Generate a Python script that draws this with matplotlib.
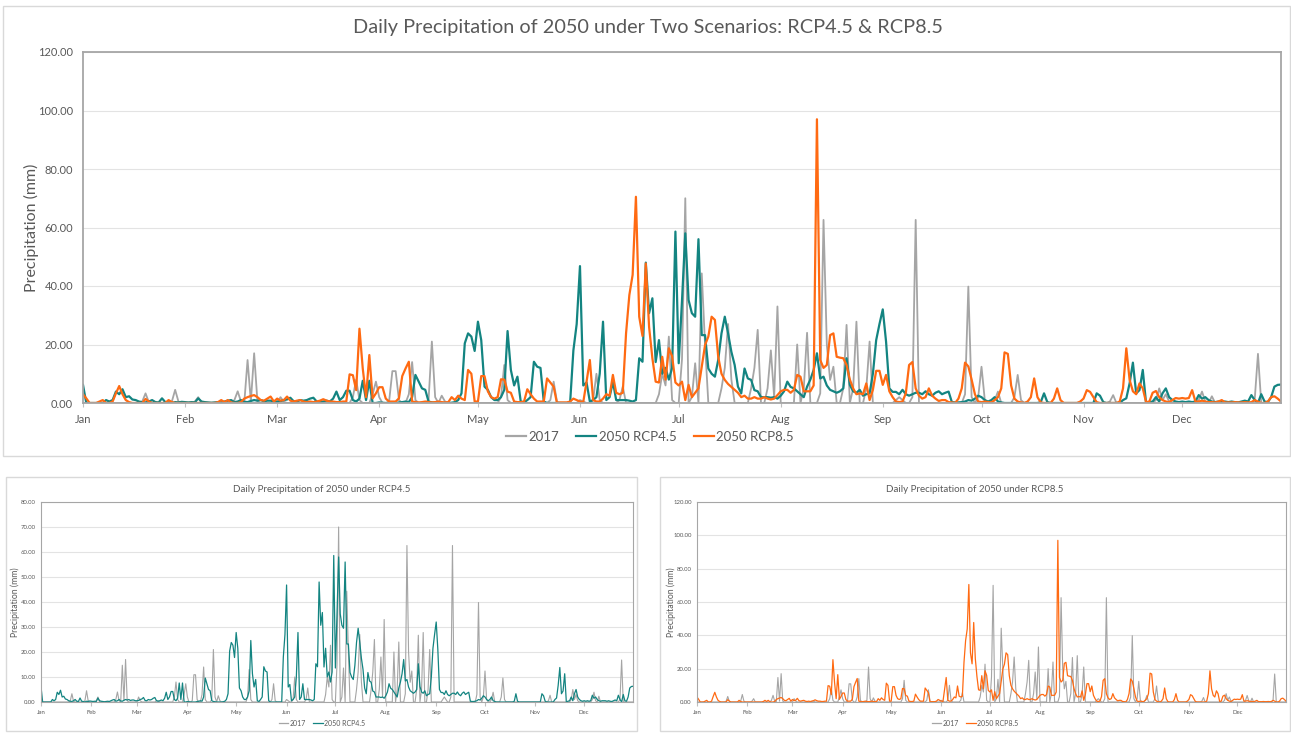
import numpy as np
import matplotlib.pyplot as plt
from matplotlib.patches import Rectangle
from matplotlib.lines import Line2D

W, H = 1291, 733
plt.rcParams['font.family'] = ['Lato', 'DejaVu Sans']

months = ['Jan', 'Feb', 'Mar', 'Apr', 'May', 'Jun', 'Jul', 'Aug', 'Sep', 'Oct', 'Nov', 'Dec']
month_days = [31, 28, 31, 30, 31, 30, 31, 31, 30, 31, 30, 31]

# daily precipitation (mm)
precip_2017 = (
    [0, 0, 0, 0, 0, 0, 0, 0, 0, 0, 0, 0, 0, 0, 0, 0, 0, 0, 0.5, 3.3,
     0.3, 0, 0, 0, 0, 0, 0, 0.5, 4.5, 0.5, 0]                                  # Jan
    + [0, 0, 0, 0.5, 2, 0, 0, 0, 0, 0, 0, 0, 0, 0, 0, 1, 4, 0.5, 0, 14.7,
       0.5, 17, 0.5, 0, 0, 0, 0, 0]                                             # Feb
    + [0, 2, 0.5, 0, 0, 0, 0, 0, 0, 0, 0, 0, 0.5, 0.5, 0, 0, 0, 0, 0, 0,
       0, 0, 0, 2, 8, 1, 0, 0, 0, 3, 7.3]                                       # Mar
    + [2, 0, 0, 0.5, 10.9, 10.9, 1, 0, 0, 3, 14, 1, 0, 0, 0, 1, 21, 2, 0, 2.5,
       0.5, 0, 0, 0, 0, 0, 0, 0, 0, 0]                                          # Apr
    + [0, 0, 0, 0, 0, 0, 0, 2, 13, 1, 0, 0, 0, 0, 0, 0, 0, 0, 0, 0,
       0, 0, 1, 7.3, 0.5, 0, 0, 0, 0, 0, 0]                                     # May
    + [1, 0.5, 0, 0, 1, 10, 1, 0, 0, 0, 0, 0, 1, 5.6, 0, 0, 0, 0, 0, 0,
       0, 0, 0, 0, 3, 10, 6, 22.7, 1, 0]                                        # Jun
    + [0, 15, 70, 0, 2, 13.6, 0, 44.3, 20, 0, 0, 0, 0, 5, 12, 27, 8, 0, 0, 0,
       0, 0, 5, 12, 25, 0, 0, 5, 18, 2, 33]                                     # Jul
    + [0, 0, 0, 0, 0, 20, 0, 5, 24, 0, 0, 0, 3.3, 62.6, 20, 7.9, 12.4, 0, 0, 5,
       26.7, 0, 5, 27.8, 0, 0, 5, 21, 0, 0, 0]                                  # Aug
    + [0, 0, 0, 0, 1, 2, 1, 0, 0, 2, 62.6, 0, 0, 0, 0, 0, 0, 0, 0, 0,
       0, 0, 0, 0, 0, 3, 39.8, 2, 0, 2]                                         # Sep
    + [12.4, 1, 0, 0, 1, 3.9, 0, 0, 0, 0, 2, 9.6, 1, 0, 0, 0, 0, 0, 0, 0,
       0, 0, 0, 0, 0, 0, 0, 0, 0, 0, 0]                                         # Oct
    + [0, 0, 0, 0, 0, 0, 0, 0, 0.5, 2.7, 0, 0, 0, 0, 0, 0, 0, 0, 0, 0,
       0, 0, 1, 5, 1, 3, 0.5, 0, 0, 0]                                          # Nov
    + [0, 0, 0, 0, 0, 1, 3.9, 0.5, 0, 2.3, 0, 0, 0, 0, 0, 0, 0, 0, 0, 0,
       0, 0, 1, 16.8, 0, 0, 0, 0, 0, 0, 0]                                      # Dec
)

precip_rcp45 = (
    [6.2, 0, 0, 0, 0, 0, 0, 1, 0.5, 1, 3.9, 3, 4.7, 2, 2.3, 1.2, 1, 0.5, 0.3, 0.2,
     0.5, 1, 0.3, 0.2, 1.6, 0.3, 0.2, 0, 0.3, 0.2, 0.4]                         # Jan
    + [0.3, 0.2, 0.3, 0.2, 1.6, 0.5, 0.3, 0.2, 0.1, 0.2, 0.3, 0.2, 0.5, 0.8, 1,
       0.3, 0.5, 1, 0.4, 0.3, 0.7, 1, 0.8, 1, 0.6, 0.8, 0.8, 0.5]               # Feb
    + [0.5, 0.6, 1, 1.2, 1.8, 0.6, 0.5, 1, 0.8, 1, 1.5, 1.8, 0.5, 0.3, 0.5,
       0.8, 0.5, 1.5, 3.9, 1, 2, 4.2, 4.2, 1, 0.5, 1.5, 7.6, 1, 7.6, 0, 0]      # Mar
    + [0.2, 0.1, 0, 0, 0, 0, 0.2, 0.3, 0.5, 0.3, 2, 9.6, 7.3, 5, 4.5,
       0.5, 0.2, 0.1, 0, 0, 0, 0, 0.1, 0.3, 1, 3.3, 20.4, 23.8, 22.7, 17.8]     # Apr
    + [27.8, 21.5, 5.6, 4.5, 2, 1, 1, 2, 4.5, 24.6, 11.3, 6, 9, 0.5, 0.2,
       1, 2, 14.1, 12.4, 12, 0.5, 0, 0, 0, 0, 0, 0, 0, 0, 18, 27]               # May
    + [46.8, 6, 7, 0.5, 1, 2, 10, 27.8, 1, 2, 7.3, 1, 1, 1, 1,
       0.8, 0.5, 1, 15.3, 14.1, 48, 30.7, 35.8, 14, 21.5, 10, 12, 8, 12, 58.6]  # Jun
    + [13.6, 35, 58, 35.2, 30.7, 29.5, 56, 23.2, 23.2, 11.8, 10, 9, 14.7, 23.8, 29.5,
       23.8, 17.5, 13, 5.6, 3.3, 11.8, 8.4, 7.9, 4.4, 4, 2, 2, 2, 1.8, 2, 1.5]  # Jul
    + [2.5, 4, 7.3, 5.5, 5, 4, 3, 2, 5.6, 8, 11.3, 17, 8.4, 9, 6,
       4.5, 4, 3.5, 4, 5, 15.3, 6.2, 4, 3.5, 4.5, 2.5, 3, 3.3, 10, 21.5, 27]    # Aug
    + [32, 21, 5, 3.8, 3.8, 3, 4.5, 3, 2.5, 3, 3.5, 3.5, 3, 4, 3,
       2.5, 3.5, 4, 3, 3.5, 3.9, 0.3, 0.2, 0.2, 0.3, 0.5, 1, 0.8, 1.5, 2.5]     # Sep
    + [2, 1, 0.5, 1, 2, 0.5, 0.2, 0, 0, 0, 0, 0, 0, 0, 0,
       0, 0, 0, 0.3, 3.3, 0.3, 0, 0, 0, 0, 0, 0, 0, 0, 0, 0]                   # Oct
    + [0, 0, 0, 0, 3.3, 2.5, 0.3, 0, 0, 0, 0, 0, 1, 1.6, 6.7,
       13.8, 3.3, 4.4, 11.3, 0, 0.3, 0.5, 2, 0.5, 3.3, 5, 2, 1, 0.5, 0.3]       # Nov
    + [0.5, 0.3, 0.5, 0.3, 0.5, 2.7, 1.5, 2, 1, 0.5, 0.3, 0.5, 0.5, 0.5, 0.3,
       0.5, 0.3, 0.2, 0.5, 0.8, 0.5, 2.7, 1, 0, 3, 0.5, 0.3, 2, 5.6, 6.2, 6.3]  # Dec
)

precip_rcp85 = (
    [3, 1.6, 0, 0, 0, 0.5, 1, 0, 0, 0.5, 3.3, 5.8, 3, 1, 0.3,
     0, 0, 0, 0, 1.4, 0.5, 0, 0, 0, 0, 0, 1, 0.3, 0, 0, 0]                     # Jan
    + [0, 0, 0, 0, 0, 0, 0, 0, 0, 0, 0.3, 1, 0.3, 1, 0.2,
       0, 0, 0.3, 1.5, 2, 2.4, 2.7, 2, 1, 0.8, 1.5, 2.2, 0.5]                   # Feb
    + [1.5, 0.8, 1, 2.2, 0.8, 0.5, 0.8, 1, 0.5, 0.3, 0.5, 0.3, 0.5, 0.8, 1.3,
       0.8, 0.5, 0.5, 0.3, 0.3, 0.5, 0.5, 9.8, 9.5, 4.4, 25.4, 11.8, 2, 16.4, 1.6, 3.3]  # Mar
    + [5.4, 5.4, 1.5, 0.5, 0.5, 0.5, 1.6, 9.2, 11.8, 14.1, 0.5, 0.3, 0.2, 0.3, 0.5,
       0.3, 0.2, 0.3, 0.5, 0.3, 0.2, 0.3, 2, 1, 2.5, 1.5, 1, 11.3, 10, 0.5]     # Apr
    + [0.5, 9.2, 9.2, 4, 2, 1.5, 2, 8.1, 8, 3.9, 3.5, 0.5, 0.3, 0.3, 0.5,
       4.7, 3, 1.5, 0.5, 0.5, 0.5, 8.4, 7, 5.6, 0, 0.2, 0.2, 0.2, 0.5, 1.5, 1]  # May
    + [0.5, 0.3, 7.3, 14.7, 1, 0.5, 0.5, 1.5, 3, 2.5, 9.6, 3.5, 3, 3.5, 23.8,
       36.9, 43.8, 70.5, 29.5, 22.9, 47.7, 26, 15.3, 7.3, 7, 15.8, 8, 18.7, 16, 7]  # Jun
    + [6, 7.3, 1, 6.2, 2, 3.5, 5, 12.4, 19.8, 22.7, 29.5, 28.4, 15.8, 10, 7.9,
       6.5, 5.5, 4.5, 3.5, 2, 2.5, 1.5, 1.5, 2, 1.5, 1.5, 2, 1.5, 1.2, 1.5, 2.7]  # Jul
    + [4, 4.5, 4.5, 3.5, 4.5, 9.6, 9, 4, 4, 4, 6, 97, 14.7, 12, 13,
       23.2, 23.8, 15.8, 15.5, 15.3, 13, 8, 5, 3, 3.3, 3, 6.7, 1, 4.5, 11, 11]  # Aug
    + [6.2, 9.6, 4, 2, 0.5, 0.3, 0.5, 3.3, 13, 14, 5, 2.5, 1.5, 2, 5,
       2.5, 1.5, 0.7, 1, 1, 0.3, 0.2, 0, 1.5, 5, 13.8, 12.5, 8, 3, 0.5]         # Sep
    + [0.3, 0.5, 0.3, 0.2, 1, 2, 5, 17.3, 16.8, 6, 1.5, 0.5, 0.2, 0, 0.5,
       2, 8.4, 2, 0.2, 0, 0, 0, 1.5, 5, 1, 0, 0, 0, 0, 0, 0.5]                 # Oct
    + [1.5, 4.4, 3.8, 2, 0.3, 0, 0, 0, 0, 0, 0, 0.5, 5, 18.7, 7.9,
       4, 3, 6.7, 5, 0.3, 0.5, 3.5, 4.1, 2, 1, 0.5, 0.3, 1, 1.7, 1.5]           # Nov
    + [1.7, 1.5, 1.7, 4.4, 0.5, 0.5, 0.8, 0.5, 0.3, 0.3, 0.2, 0.5, 1, 0.2, 0.2,
       0.2, 0.3, 0.2, 0.2, 0.3, 0.2, 0.3, 1, 0.5, 0, 0, 0.5, 2, 2.3, 1.5, 0.5]  # Dec
)

GRAY, TEAL, ORANGE = '#A5A5A5', '#138481', '#FF6A12'
TEXT = '#595959'
days = np.arange(len(precip_2017))
month_starts = np.cumsum([0] + month_days[:-1])


def px_axes(fig, left, top, right, bottom):
    """Axes placed by pixel edges of the 1291x733 canvas."""
    return fig.add_axes([left / W, 1 - bottom / H, (right - left) / W, (bottom - top) / H])


def px_box(fig, left, top, right, bottom, color='#D9D9D9'):
    fig.patches.append(Rectangle((left / W, 1 - bottom / H), (right - left) / W, (bottom - top) / H,
                                 transform=fig.transFigure, fill=False, edgecolor=color, lw=1.0))


def style_panel(ax, ymax, ystep, tick_fs, ylabel_fs, frame_lw):
    ax.set_xlim(0, len(days) - 1)
    ax.set_ylim(0, ymax)
    ax.set_yticks(np.arange(0, ymax + 0.1, ystep))
    ax.set_yticklabels([f"{v:.2f}" for v in np.arange(0, ymax + 0.1, ystep)])
    ax.set_xticks(month_starts)
    ax.set_xticklabels(months)
    ax.tick_params(axis='y', length=0, labelsize=tick_fs, colors=TEXT, pad=tick_fs * 0.9)
    ax.tick_params(axis='x', length=3, width=0.8, color='#BFBFBF', labelsize=tick_fs, colors=TEXT,
                   pad=tick_fs * 0.6)
    ax.grid(axis='y', color='#E3E3E3', lw=0.8)
    ax.set_axisbelow(True)
    for sp in ax.spines.values():
        sp.set_color('#A6A6A6')
        sp.set_linewidth(frame_lw)
    ax.set_ylabel("Precipitation (mm)", fontsize=ylabel_fs, color=TEXT)


fig = plt.figure(figsize=(W / 100, H / 100), dpi=100)

# top panel
px_box(fig, 3, 6, 1290, 456)
ax = px_axes(fig, 83, 52, 1281, 403)
ax.plot(days, precip_2017, color=GRAY, lw=1.3)
ax.plot(days, precip_rcp45, color=TEAL, lw=1.6)
ax.plot(days, precip_rcp85, color=ORANGE, lw=1.6)
style_panel(ax, 120, 20, 8, 11.5, 1.3)
ax.yaxis.set_label_coords(-0.037, 0.5)
fig.text(648 / W, 1 - 27 / H, "Daily Precipitation of 2050 under Two Scenarios: RCP4.5 & RCP8.5",
         ha='center', va='center', fontsize=14.3, color=TEXT)
handles = [Line2D([], [], color=c, lw=1.6) for c in (GRAY, TEAL, ORANGE)]
fig.legend(handles, ["2017", "2050 RCP4.5", "2050 RCP8.5"], loc='center', ncol=3,
           bbox_to_anchor=(650 / W, 1 - 437 / H), frameon=False, fontsize=9.5,
           handlelength=1.5, handletextpad=0.2, columnspacing=1.3, labelcolor=TEXT)

# bottom left: RCP4.5
px_box(fig, 6, 477, 637, 731)
axl = px_axes(fig, 41, 502, 633, 702)
axl.plot(days, precip_2017, color=GRAY, lw=0.8)
axl.plot(days, precip_rcp45, color=TEAL, lw=0.9)
style_panel(axl, 80, 10, 4.3, 6.2, 0.8)
axl.yaxis.set_label_coords(-0.035, 0.5)
fig.text(322 / W, 1 - 489 / H, "Daily Precipitation of 2050 under RCP4.5",
         ha='center', va='center', fontsize=7, color=TEXT)
fig.legend([Line2D([], [], color=GRAY, lw=0.9), Line2D([], [], color=TEAL, lw=0.9)],
           ["2017", "2050 RCP4.5"], loc='center', ncol=2,
           bbox_to_anchor=(322 / W, 1 - 723 / H), frameon=False, fontsize=5,
           handlelength=1.4, handletextpad=0.2, columnspacing=1.0, labelcolor=TEXT)

# bottom right: RCP8.5
px_box(fig, 660, 477, 1290, 731)
axr = px_axes(fig, 697, 502, 1286, 702)
axr.plot(days, precip_2017, color=GRAY, lw=0.8)
axr.plot(days, precip_rcp85, color=ORANGE, lw=0.9)
style_panel(axr, 120, 20, 4.3, 6.2, 0.8)
axr.yaxis.set_label_coords(-0.036, 0.5)
fig.text(975 / W, 1 - 489 / H, "Daily Precipitation of 2050 under RCP8.5",
         ha='center', va='center', fontsize=7, color=TEXT)
fig.legend([Line2D([], [], color=GRAY, lw=0.9), Line2D([], [], color=ORANGE, lw=0.9)],
           ["2017", "2050 RCP8.5"], loc='center', ncol=2,
           bbox_to_anchor=(975 / W, 1 - 723 / H), frameon=False, fontsize=5,
           handlelength=1.4, handletextpad=0.2, columnspacing=1.0, labelcolor=TEXT)

fig.savefig("out.png", dpi=100)
plt.close(fig)
